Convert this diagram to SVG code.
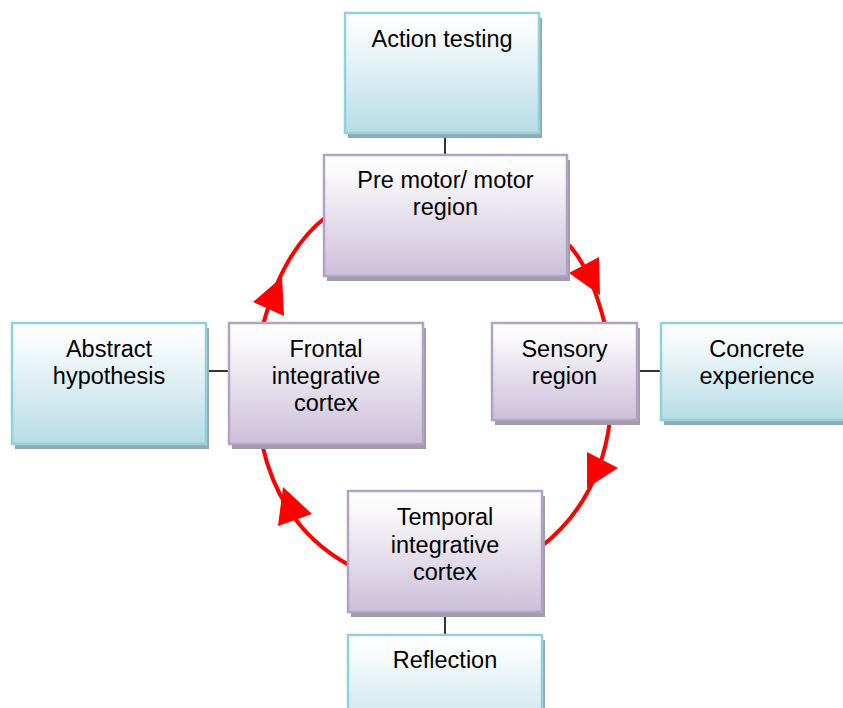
<svg xmlns="http://www.w3.org/2000/svg" width="843" height="708" viewBox="0 0 843 708">
  <defs>
    <linearGradient id="gBlue" x1="0" y1="0" x2="0" y2="1">
      <stop offset="0" stop-color="#ffffff"/>
      <stop offset="0.15" stop-color="#f8fbfc"/>
      <stop offset="1" stop-color="#b6dce6"/>
    </linearGradient>
    <linearGradient id="gPurple" x1="0" y1="0" x2="0" y2="1">
      <stop offset="0" stop-color="#ffffff"/>
      <stop offset="0.15" stop-color="#faf9fb"/>
      <stop offset="1" stop-color="#cbbfd9"/>
    </linearGradient>
    <style>
      .blue { fill: url(#gBlue); stroke: #93cfdd; stroke-width: 2.5; }
      .purple { fill: url(#gPurple); stroke: #b3a2c8; stroke-width: 2.5; }
      .shBlue { fill: #93a9b1; }
      .shPurple { fill: #a39aab; }
      .lbl { font-family: "Liberation Sans", Arial, sans-serif; font-size: 23.5px; fill: #000; text-anchor: middle; }
      .link { stroke: #000; stroke-width: 1.6; fill: none; }
      .cycle { stroke: #ff0000; stroke-width: 4; fill: none; }
      .head { fill: #ff0000; }
    </style>
  </defs>

  <!-- connectors: tree links and the red cycle -->
  <g id="connectors">
    <line class="link" x1="445" y1="133" x2="445" y2="156"/>
    <line class="link" x1="206" y1="371" x2="230" y2="371"/>
    <line class="link" x1="637" y1="371" x2="661" y2="371"/>
    <line class="link" x1="445" y1="612" x2="445" y2="636"/>

    <path class="cycle" d="M326,217 Q283,250 263,325"/>
    <path class="cycle" d="M566,242 Q590,265 605,325"/>
    <path class="cycle" d="M610,420 Q600,500 542,546"/>
    <path class="cycle" d="M262,444 Q281,528 349,565"/>

    <polygon class="head" points="282,277 253,302 284,316"/>
    <polygon class="head" points="569,273 599,257 600,295"/>
    <polygon class="head" points="587,452 618,468 587,488"/>
    <polygon class="head" points="283,487 312,514 278,526"/>
  </g>

  <g id="action-testing">
    <rect class="shBlue" x="348" y="18" width="194" height="120"/>
    <rect class="blue" x="345" y="13" width="194" height="120"/>
    <text class="lbl" x="442" y="47">Action testing</text>
  </g>

  <g id="premotor-region">
    <rect class="shPurple" x="327" y="160" width="243" height="121"/>
    <rect class="purple" x="324" y="155" width="243" height="121"/>
    <text class="lbl" x="445.5" y="188">Pre motor/ motor</text>
    <text class="lbl" x="445.5" y="215">region</text>
  </g>

  <g id="abstract-hypothesis">
    <rect class="shBlue" x="15" y="328" width="194" height="121"/>
    <rect class="blue" x="12" y="323" width="194" height="121"/>
    <text class="lbl" x="109" y="357">Abstract</text>
    <text class="lbl" x="109" y="384">hypothesis</text>
  </g>

  <g id="frontal-cortex">
    <rect class="shPurple" x="232" y="328" width="194" height="121"/>
    <rect class="purple" x="229" y="323" width="194" height="121"/>
    <text class="lbl" x="326" y="357">Frontal</text>
    <text class="lbl" x="326" y="384">integrative</text>
    <text class="lbl" x="326" y="411">cortex</text>
  </g>

  <g id="sensory-region">
    <rect class="shPurple" x="495" y="328" width="145" height="97"/>
    <rect class="purple" x="492" y="323" width="145" height="97"/>
    <text class="lbl" x="564.5" y="357">Sensory</text>
    <text class="lbl" x="564.5" y="384">region</text>
  </g>

  <g id="concrete-experience">
    <rect class="shBlue" x="664" y="328" width="194" height="97"/>
    <rect class="blue" x="661" y="323" width="194" height="97"/>
    <text class="lbl" x="757" y="357">Concrete</text>
    <text class="lbl" x="757" y="384">experience</text>
  </g>

  <g id="temporal-cortex">
    <rect class="shPurple" x="351" y="496" width="194" height="121"/>
    <rect class="purple" x="348" y="491" width="194" height="121"/>
    <text class="lbl" x="445" y="525">Temporal</text>
    <text class="lbl" x="445" y="553">integrative</text>
    <text class="lbl" x="445" y="580">cortex</text>
  </g>

  <g id="reflection">
    <rect class="shBlue" x="351" y="640" width="194" height="121"/>
    <rect class="blue" x="348" y="635" width="194" height="121"/>
    <text class="lbl" x="445" y="668">Reflection</text>
  </g>
</svg>
